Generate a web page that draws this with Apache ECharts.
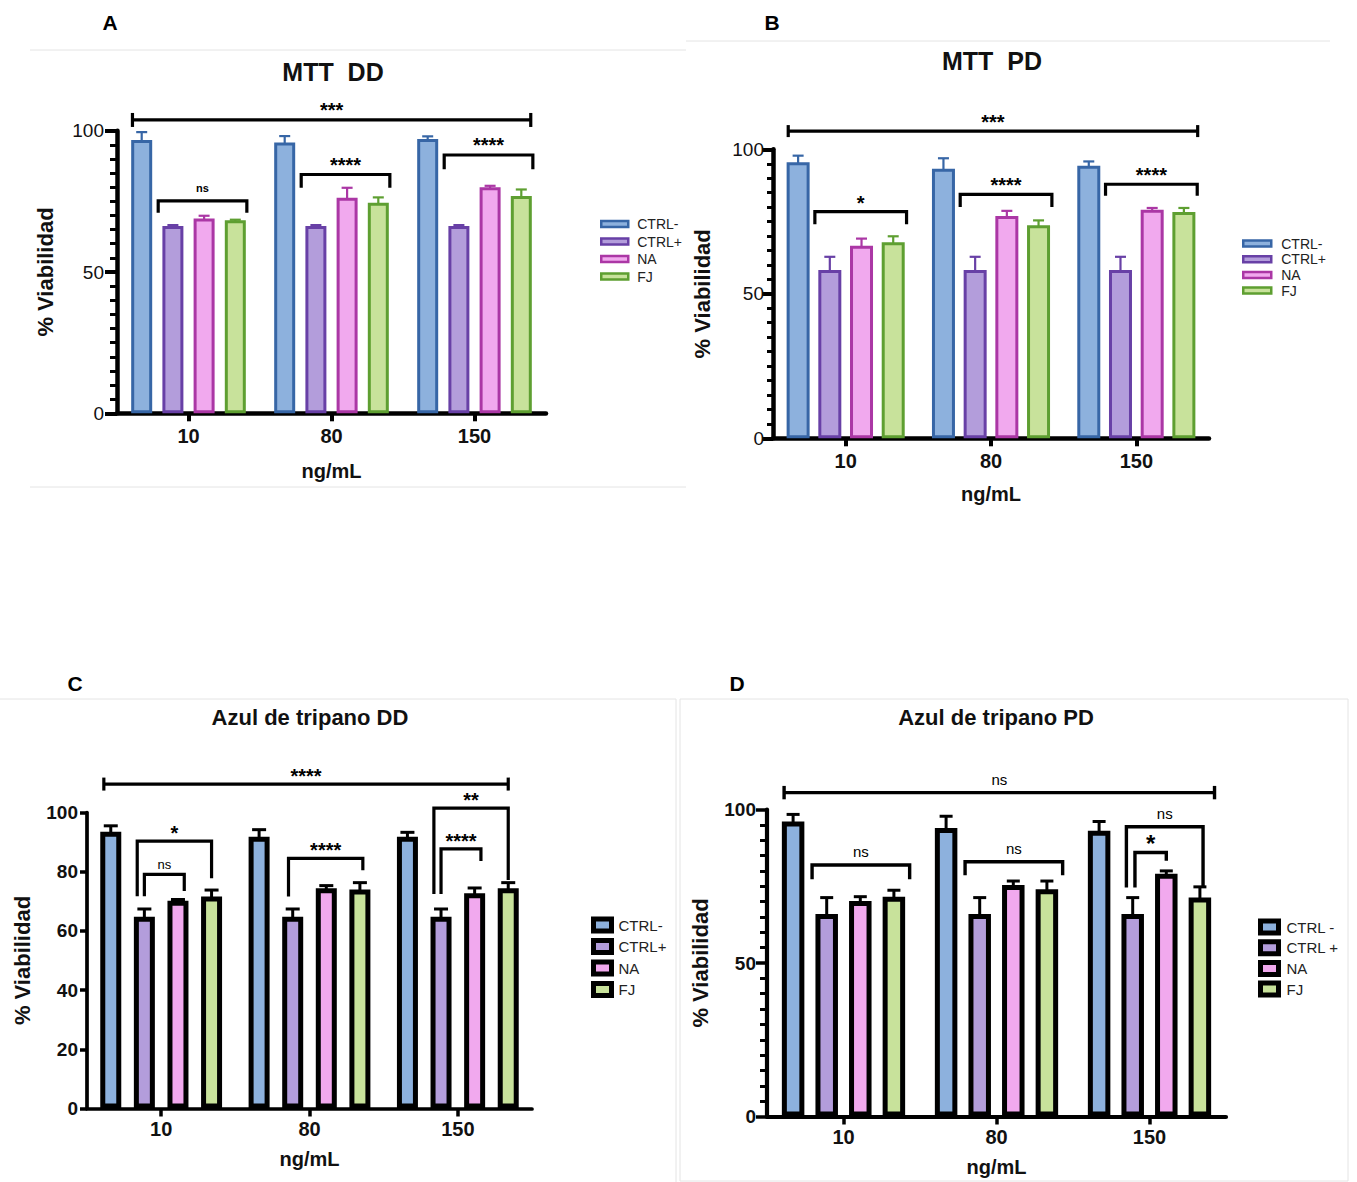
<!DOCTYPE html>
<html><head><meta charset="utf-8">
<script src="https://cdn.jsdelivr.net/npm/echarts@6/dist/echarts.min.js"></script>
<style>html,body{margin:0;padding:0;background:#fff}#chart{width:1357px;height:1182px}</style>
</head><body><div id="chart"></div>
<script>
// ---------------- DATA ----------------
const categories = ['10', '80', '150'];
const groupNames = ['CTRL-', 'CTRL+', 'NA', 'FJ'];
const groupNamesD = ['CTRL -', 'CTRL +', 'NA', 'FJ'];
const yTicksMTT = [0, 50, 100];
const yTicksTripanoDD = [0, 20, 40, 60, 80, 100];

// A: MTT DD  (rows: CTRL-, CTRL+, NA, FJ; columns: 10, 80, 150 ng/mL)
const mttDD_means = [[96.7, 95.8, 97.1], [66.3, 66.3, 66.3], [68.9, 76.3, 80.0], [68.3, 74.5, 76.9]];
const mttDD_sd    = [[2.8, 2.3, 0.9], [0.3, 0.3, 0.3], [1.0, 3.5, 0.5], [0.2, 1.9, 2.3]];
// [group1, bar1, group2, bar2, top, leftEnd, rightEnd, label, kind]
const mttDD_brackets = [
  [0, 0, 2, 3, 103.8, null, null, '***', 'all'],
  [0, 1, 0, 3, 75.2, 71.0, 71.0, 'ns', 'pair'],
  [1, 1, 1, 3, 84.5, 79.8, 79.8, '****', 'pair'],
  [2, 1, 2, 3, 91.4, 86.4, 86.4, '****', 'pair']
];

// B: MTT PD
const mttPD_means = [[95.5, 93.3, 94.3], [58.2, 58.2, 58.2], [66.6, 76.9, 79.1], [67.8, 73.7, 78.3]];
const mttPD_sd    = [[2.3, 3.6, 1.5], [4.6, 4.6, 4.6], [2.5, 1.8, 0.6], [2.1, 1.7, 1.4]];
const mttPD_brackets = [
  [0, 0, 2, 3, 106.3, null, null, '***', 'all'],
  [0, 1, 0, 3, 78.4, 74.1, 74.1, '*', 'pair'],
  [1, 1, 1, 3, 84.4, 80.0, 80.0, '****', 'pair'],
  [2, 1, 2, 3, 87.9, 83.9, 83.9, '****', 'pair']
];

// C: Azul de tripano DD
const tripDD_means = [[93.5, 91.8, 91.8], [64.8, 64.8, 64.8], [70.2, 74.4, 72.7], [71.6, 74.0, 74.4]];
const tripDD_sd    = [[2.0, 2.4, 1.5], [2.6, 2.6, 2.6], [0.4, 0.9, 1.8], [2.2, 2.3, 1.9]];
const tripDD_brackets = [
  [0, 0, 2, 3, 109.6, null, null, '****', 'all'],
  [0, 1, 0, 3, 90.3, 71.7, 77.8, '*', 'outer'],
  [0, 1, 0, 2, 79.1, 71.7, 73.5, 'ns', 'inner'],
  [1, 1, 1, 3, 84.5, 71.6, 80.5, '****', 'pair'],
  [2, 1, 2, 3, 101.5, 72.5, 77.2, '**', 'outer'],
  [2, 1, 2, 2, 87.7, 72.5, 83.6, '****', 'inner']
];

// D: Azul de tripano PD
const tripPD_means = [[96.1, 94.0, 93.1], [66.0, 66.0, 66.0], [70.2, 75.4, 79.1], [71.6, 74.0, 71.3]];
const tripPD_sd    = [[2.3, 3.8, 3.0], [5.3, 5.3, 5.3], [1.4, 1.3, 0.9], [2.1, 2.7, 3.5]];
const tripPD_brackets = [
  [0, 0, 2, 3, 105.5, null, null, 'ns', 'all'],
  [0, 1, 0, 3, 81.9, 77.3, 77.3, 'ns', 'pair'],
  [1, 1, 1, 3, 83.0, 78.6, 78.6, 'ns', 'pair'],
  [2, 1, 2, 3, 94.4, 74.6, 74.6, 'ns', 'outer'],
  [2, 1, 2, 2, 86.0, 74.6, 83.3, '*', 'inner']
];

// ---------------- STYLE / LAYOUT ----------------
const FONT = "'Liberation Sans', Arial, Helvetica, sans-serif";
const fills = ['#8db1dd', '#b39ddb', '#f1a9ee', '#c8e29b'];
const darks = ['#3766a6', '#6840a6', '#ab37a5', '#5e9f31'];

const panels = [
  { title: 'MTT  DD', letter: 'A', letterPos: [110, 22], titlePos: [333, 72], titleSize: 25,
    means: mttDD_means, sd: mttDD_sd, brackets: mttDD_brackets, names: groupNames, yTicks: yTicksMTT,
    grid: { left: 117, top: 130.7, width: 429, height: 282.6 },
    barW: 21, border: 3, slot: 31.2, dark: true, axisW: 4.5, tickW: 4, minorW: 3,
    minorSplit: 10, yTickLen: 12, minorLen: 7, yLabelMargin: 13, yLabelBold: false,
    nameGap: 61, xNameGap: 48, xLabelMargin: 13,
    errW: 2.2, cap: 11, lineW: 3.2, capH: 7,
    legOff: { all: [-0.44, 0.45], pair: [-0.7, 0.55] },
    starFont: 20, starOff: 12.5, nsFont: 11, nsBold: true, nsOff: 12.5,
    legend: { left: 600, top: 217, itemWidth: 27, itemHeight: 6, itemGap: 3.5, fontSize: 14, pad: 4, bw: 2.5 } },
  { title: 'MTT  PD', letter: 'B', letterPos: [772, 22], titlePos: [992, 61], titleSize: 25,
    means: mttPD_means, sd: mttPD_sd, brackets: mttPD_brackets, names: groupNames, yTicks: yTicksMTT,
    grid: { left: 773, top: 149.3, width: 436, height: 289 },
    barW: 23, border: 3, slot: 31.7, dark: true, axisW: 4.5, tickW: 4, minorW: 3,
    minorSplit: 10, yTickLen: 11, minorLen: 6, yLabelMargin: 9, yLabelBold: false,
    nameGap: 60, xNameGap: 46, xLabelMargin: 13,
    errW: 2.2, cap: 11, lineW: 3.2, capH: 6,
    legOff: { all: [-0.43, 0.6], pair: [-0.65, 0.58] },
    starFont: 20, starOff: 12, nsFont: 11, nsBold: true, nsOff: 12,
    legend: { left: 1242, top: 236.5, itemWidth: 28, itemHeight: 6, itemGap: 1.7, fontSize: 14, pad: 5, bw: 2.5 } },
  { title: 'Azul de tripano DD', letter: 'C', letterPos: [75, 683], titlePos: [310, 717], titleSize: 22,
    means: tripDD_means, sd: tripDD_sd, brackets: tripDD_brackets, names: groupNames, yTicks: yTicksTripanoDD,
    grid: { left: 87, top: 812.5, width: 445, height: 296 },
    barW: 21, border: 5, slot: 33.6, dark: false, axisW: 3.7, tickW: 3.5, minorW: 3,
    minorSplit: 0, yTickLen: 7, minorLen: 0, yLabelMargin: 9, yLabelBold: true,
    nameGap: 54, xNameGap: 40, xLabelMargin: 10,
    errW: 3, cap: 14, lineW: 3.2, capH: 6.5,
    legOff: { all: [-0.33, 0.0], outer: [-0.34, 0.0], inner: [0.0, 0.3], pair: [-0.2, 0.14] },
    starFont: 20, starOff: 11, nsFont: 13, nsBold: false, nsOff: 10,
    legend: { left: 591, top: 916.5, itemWidth: 18, itemHeight: 12, itemGap: 4.5, fontSize: 15, pad: 2, bw: 5 } },
  { title: 'Azul de tripano PD', letter: 'D', letterPos: [737, 683], titlePos: [996, 717], titleSize: 22,
    means: tripPD_means, sd: tripPD_sd, brackets: tripPD_brackets, names: groupNamesD, yTicks: yTicksMTT,
    grid: { left: 767, top: 809.5, width: 459, height: 307 },
    barW: 22.5, border: 5, slot: 33.6, dark: false, axisW: 4.2, tickW: 3.5, minorW: 3,
    minorSplit: 10, yTickLen: 11, minorLen: 7, yLabelMargin: 11, yLabelBold: true,
    nameGap: 56, xNameGap: 40, xLabelMargin: 10,
    errW: 3, cap: 13, lineW: 3.4, capH: 6.7,
    legOff: { all: [-0.4, 0.65], outer: [-0.28, 0.14], inner: [0.1, 0.0], pair: [-0.65, 0.7] },
    starFont: 24, starOff: 12.5, nsFont: 15, nsBold: false, nsOff: 13.5,
    legend: { left: 1258, top: 918.5, itemWidth: 18, itemHeight: 12, itemGap: 3.7, fontSize: 15, pad: 3, bw: 5 } }
];

function barCenter(api, g, i, p) {
  return api.coord([g, 0])[0] + (i - 1.5) * p.slot;
}

const option = {
  animation: false,
  backgroundColor: '#ffffff',
  textStyle: { fontFamily: FONT },
  grid: [], xAxis: [], yAxis: [], series: [], legend: [], graphic: []
};

panels.forEach(function (p, pi) {
  const yMax = p.yTicks[p.yTicks.length - 1];
  const yInterval = p.yTicks[1] - p.yTicks[0];
  option.grid.push(Object.assign({ containLabel: false, outerBoundsMode: 'none' }, p.grid));
  option.xAxis.push({
    type: 'category', gridIndex: pi, data: categories, boundaryGap: true,
    axisLine: { show: true, lineStyle: { color: '#000', width: p.axisW } },
    axisTick: { show: true, alignWithLabel: true, length: 8, lineStyle: { color: '#000', width: p.tickW } },
    axisLabel: { fontSize: 20, fontWeight: 'bold', color: '#111', margin: p.xLabelMargin, fontFamily: FONT },
    splitLine: { show: false },
    name: 'ng/mL', nameLocation: 'middle', nameGap: p.xNameGap,
    nameTextStyle: { fontSize: 20, fontWeight: 'bold', color: '#111', fontFamily: FONT }
  });
  option.yAxis.push({
    type: 'value', gridIndex: pi, min: p.yTicks[0], max: yMax, interval: yInterval,
    axisLine: { show: true, lineStyle: { color: '#000', width: p.axisW } },
    axisTick: { show: true, length: p.yTickLen, lineStyle: { color: '#000', width: p.tickW } },
    minorTick: { show: p.minorSplit > 0, splitNumber: p.minorSplit || 5, length: p.minorLen, lineStyle: { color: '#000', width: p.minorW } },
    splitLine: { show: false }, minorSplitLine: { show: false },
    axisLabel: { fontSize: 19, fontWeight: p.yLabelBold ? 'bold' : 'normal', color: '#111', margin: p.yLabelMargin, fontFamily: FONT },
    name: '% Viabilidad', nameLocation: 'middle', nameGap: p.nameGap, nameRotate: 90,
    nameTextStyle: { fontSize: 22, fontWeight: 'bold', color: '#111', fontFamily: FONT }
  });

  // barWidth is the outer width; ECharts keeps the border inside it
  const gapPct = ((p.slot / p.barW - 1) * 100).toFixed(1) + '%';
  p.names.forEach(function (n, i) {
    option.series.push({
      type: 'bar', name: n, xAxisIndex: pi, yAxisIndex: pi, data: p.means[i],
      barWidth: p.barW, barGap: gapPct, silent: true, z: 3,
      itemStyle: { color: fills[i], borderColor: p.dark ? darks[i] : '#000', borderWidth: p.border }
    });
  });

  // error bars (upper half, as in the figure)
  const errData = [];
  p.means.forEach(function (row, i) {
    row.forEach(function (m, g) { errData.push([g, m, m + p.sd[i][g], i]); });
  });
  option.series.push({
    type: 'custom', xAxisIndex: pi, yAxisIndex: pi, data: errData, silent: true, z: 2, clip: false,
    encode: { x: 0, y: [1, 2] },
    renderItem: function (params, api) {
      const g = api.value(0), m = api.value(1), t = api.value(2), i = api.value(3);
      const x = barCenter(api, g, i, p);
      const y0 = api.coord([g, m])[1], y1 = api.coord([g, t])[1];
      const color = p.dark ? darks[i] : '#000';
      return { type: 'group', children: [
        { type: 'line', shape: { x1: x, y1: y0 + 2, x2: x, y2: y1 }, style: { stroke: color, lineWidth: p.errW } },
        { type: 'line', shape: { x1: x - p.cap / 2, y1: y1, x2: x + p.cap / 2, y2: y1 }, style: { stroke: color, lineWidth: p.errW } }
      ] };
    }
  });

  // significance brackets
  const outerW = p.barW;
  option.series.push({
    type: 'custom', xAxisIndex: pi, yAxisIndex: pi, silent: true, z: 6, clip: false,
    data: p.brackets.map(function (b) { return [b[0], b[4]]; }),
    encode: { x: 0, y: 1 },
    renderItem: function (params, api) {
      const b = p.brackets[params.dataIndex];
      const off = p.legOff[b[8]];
      const x1 = barCenter(api, b[0], b[1], p) + off[0] * outerW;
      const x2 = barCenter(api, b[2], b[3], p) + off[1] * outerW;
      const yT = api.coord([0, b[4]])[1];
      const children = [];
      const ls = { stroke: '#000', lineWidth: p.lineW, fill: null, lineJoin: 'miter' };
      if (b[8] === 'all') {
        children.push({ type: 'line', shape: { x1: x1, y1: yT, x2: x2, y2: yT }, style: ls });
        children.push({ type: 'line', shape: { x1: x1, y1: yT - p.capH, x2: x1, y2: yT + p.capH }, style: ls });
        children.push({ type: 'line', shape: { x1: x2, y1: yT - p.capH, x2: x2, y2: yT + p.capH }, style: ls });
      } else {
        const yL = api.coord([0, b[5]])[1], yR = api.coord([0, b[6]])[1];
        children.push({ type: 'polyline', shape: { points: [[x1, yL], [x1, yT], [x2, yT], [x2, yR]] }, style: ls });
      }
      const isStar = b[7].indexOf('*') >= 0;
      const fs = isStar ? p.starFont : p.nsFont;
      const ty = isStar ? yT - p.starOff + 0.145 * fs : yT - p.nsOff;
      children.push({ type: 'text', x: (x1 + x2) / 2, y: ty, style: {
        text: b[7], fill: '#000', align: 'center', verticalAlign: 'middle',
        textAlign: 'center', textVerticalAlign: 'middle',
        font: ((isStar || p.nsBold) ? 'bold ' : '') + fs + 'px ' + FONT } });
      return { type: 'group', children: children };
    }
  });

  option.legend.push({
    orient: 'vertical', left: p.legend.left, top: p.legend.top, padding: 0,
    itemWidth: p.legend.itemWidth, itemHeight: p.legend.itemHeight, itemGap: p.legend.itemGap,
    selectedMode: false, icon: 'rect',
    textStyle: { fontSize: p.legend.fontSize, color: '#222', fontFamily: FONT, padding: [0, 0, 0, p.legend.pad] },
    data: p.names.map(function (n, i) {
      return { name: n, icon: 'rect', itemStyle: { color: fills[i], borderColor: p.dark ? darks[i] : '#000', borderWidth: p.legend.bw } };
    })
  });

  option.graphic.push({ type: 'text', x: p.titlePos[0], y: p.titlePos[1], silent: true,
    style: { text: p.title, fill: '#111', align: 'center', verticalAlign: 'middle', textAlign: 'center', textVerticalAlign: 'middle',
      font: 'bold ' + p.titleSize + 'px ' + FONT } });
  option.graphic.push({ type: 'text', x: p.letterPos[0], y: p.letterPos[1], silent: true,
    style: { text: p.letter, fill: '#000', align: 'center', verticalAlign: 'middle', textAlign: 'center', textVerticalAlign: 'middle',
      font: 'bold 21px ' + FONT } });
});

// faint panel frames of the composed figure
const frameStyle = { stroke: '#e4e4e4', lineWidth: 1 };
option.graphic.push(
  { type: 'line', silent: true, shape: { x1: 30, y1: 50, x2: 686, y2: 50 }, style: frameStyle },
  { type: 'line', silent: true, shape: { x1: 30, y1: 487, x2: 686, y2: 487 }, style: frameStyle },
  { type: 'line', silent: true, shape: { x1: 686, y1: 41, x2: 1330, y2: 41 }, style: frameStyle },
  { type: 'line', silent: true, shape: { x1: 0, y1: 699, x2: 676, y2: 699 }, style: frameStyle },
  { type: 'line', silent: true, shape: { x1: 676, y1: 699, x2: 676, y2: 1182 }, style: frameStyle },
  { type: 'rect', silent: true, shape: { x: 680, y: 699, width: 668, height: 482 }, style: { stroke: '#e4e4e4', lineWidth: 1, fill: null } }
);

const chart = echarts.init(document.getElementById('chart'), null, { renderer: 'svg', width: 1357, height: 1182 });
chart.setOption(option);
</script>
</body></html>
